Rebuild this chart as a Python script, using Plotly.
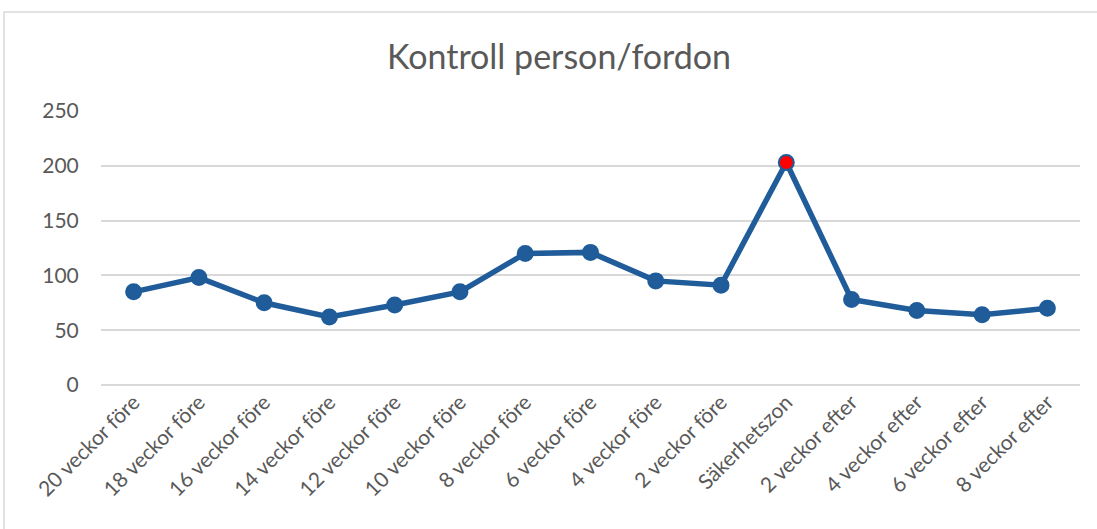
import plotly.graph_objects as go

categories = ["20 veckor före", "18 veckor före", "16 veckor före", "14 veckor före",
              "12 veckor före", "10 veckor före", "8 veckor före", "6 veckor före",
              "4 veckor före", "2 veckor före", "Säkerhetszon", "2 veckor efter",
              "4 veckor efter", "6 veckor efter", "8 veckor efter"]
values = [85, 98, 75, 62, 73, 85, 120, 121, 95, 91, 203, 78, 68, 64, 70]
highlight = "Säkerhetszon"
y_ticks = [0, 50, 100, 150, 200, 250]

blue = "#1F5C99"
marker_colors = ["#FF0000" if c == highlight else blue for c in categories]

fig = go.Figure()
fig.add_trace(go.Scatter(
    x=categories, y=values, mode="lines+markers",
    line=dict(color=blue, width=5.5),
    marker=dict(size=15, color=marker_colors, line=dict(color=blue, width=2)),
    showlegend=False, hoverinfo="x+y",
))

W, H = 1097, 529
L, T = 101, 111
pw, ph = 979, 274
R = W - L - pw
B = H - T - ph

fig.update_layout(
    width=W, height=H,
    margin=dict(l=L, r=R, t=T, b=B, pad=0),
    paper_bgcolor="white", plot_bgcolor="white",
    font=dict(family="Lato, 'Open Sans', sans-serif", color="#595959"),
    title=dict(text="Kontroll person/fordon", x=559 / W, xanchor="center",
               y=1 - 57 / H, yanchor="middle",
               font=dict(size=34, color="#595959")),
    xaxis=dict(type="category", tickangle=-45, tickfont=dict(size=21, color="#595959"),
               showgrid=False, showline=False, ticks="", zeroline=False,
               range=[-0.5, len(categories) - 0.5]),
    yaxis=dict(range=[0, 250], tickvals=y_ticks, tickfont=dict(size=21, color="#595959"),
               showgrid=True, gridcolor="#D9D9D9", gridwidth=2,
               zeroline=True, zerolinecolor="#D9D9D9", zerolinewidth=2,
               showline=False, ticks="outside", ticklen=17, tickcolor="rgba(0,0,0,0)"),
)

# Chart-area border (left and top edges visible)
fig.add_shape(type="rect", xref="paper", yref="paper",
              x0=(4 - L) / pw, x1=(W + 20 - L) / pw,
              y0=-(H + 20 - T - ph) / ph, y1=(H - 12 - B) / ph,
              line=dict(color="#D9D9D9", width=1.5), fillcolor="rgba(0,0,0,0)", layer="below")

fig.write_html("out.html", config={"displayModeBar": False},
               post_script="document.body.style.margin='0px';")
